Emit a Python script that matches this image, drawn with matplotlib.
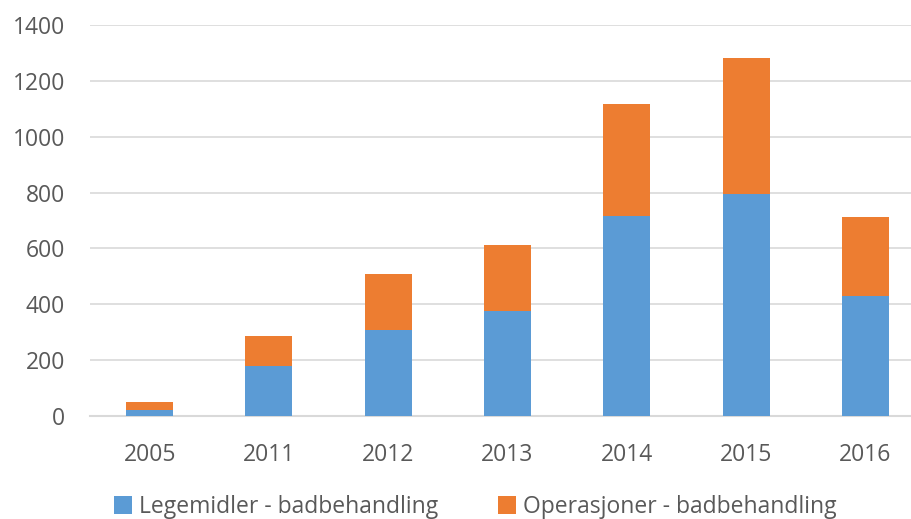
import matplotlib.pyplot as plt
import numpy as np

years = ["2005", "2011", "2012", "2013", "2014", "2015", "2016"]
legemidler = [23, 180, 309, 377, 717, 796, 430]
operasjoner = [26, 107, 198, 236, 399, 486, 282]
series_names = ["Legemidler - badbehandling", "Operasjoner - badbehandling"]

plt.rcParams["font.family"] = ["Open Sans", "DejaVu Sans"]
text_color = "#595959"
grid_color = "#d9d9d9"

fig = plt.figure(figsize=(9.12, 5.19), dpi=100)
ax = fig.add_axes([90 / 912, 103 / 519, 835 / 912, 391 / 519])

x = np.arange(len(years))
ax.bar(x, legemidler, width=0.395, color="#5B9BD5", label=series_names[0], zorder=3)
ax.bar(x, operasjoner, width=0.395, bottom=legemidler, color="#ED7D31",
       label=series_names[1], zorder=3)

ax.set_xlim(-0.5, len(years) - 0.5)
ax.set_ylim(0, 1400)
ax.set_yticks(range(0, 1401, 200))
ax.set_xticks(x)
ax.set_xticklabels(years)

ax.yaxis.grid(True, color=grid_color, linewidth=1.2, zorder=0)
for s in ["top", "right", "left"]:
    ax.spines[s].set_visible(False)
ax.spines["bottom"].set_color(grid_color)
ax.spines["bottom"].set_linewidth(1.5)
ax.tick_params(axis="both", length=0, labelsize=16.5, colors=text_color)
ax.tick_params(axis="y", pad=18)
ax.tick_params(axis="x", pad=19.5)

fig.legend(loc="center", bbox_to_anchor=(0.521, 0.023), ncol=2, frameon=False,
           fontsize=16.5, labelcolor=text_color, handlelength=0.8, handleheight=0.8,
           handletextpad=0.3, columnspacing=2.6)

fig.savefig("out.png", dpi=100)
